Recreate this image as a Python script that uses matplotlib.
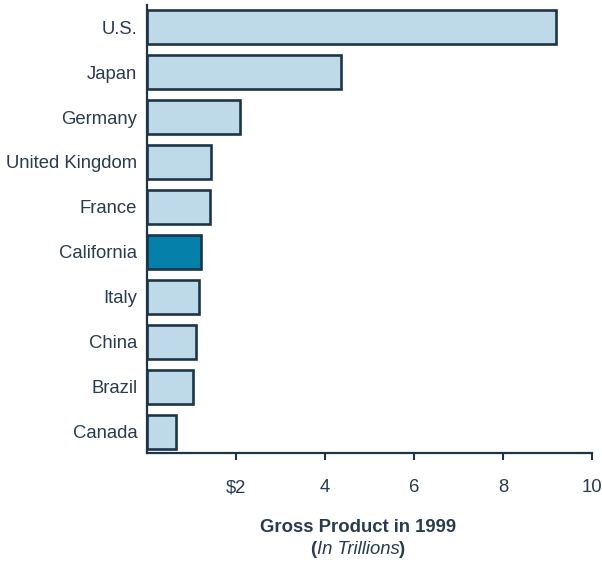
import matplotlib.pyplot as plt

plt.rcParams["font.family"] = ["Liberation Sans", "DejaVu Sans"]

countries = [
    "U.S.", "Japan", "Germany", "United Kingdom", "France",
    "California", "Italy", "China", "Brazil", "Canada",
]
gross_product = [9.19, 4.36, 2.09, 1.44, 1.42, 1.21, 1.17, 1.10, 1.03, 0.65]
highlight = "California"

x_ticks = [2, 4, 6, 8, 10]
x_tick_labels = ["$2", "4", "6", "8", "10"]

LIGHT_BLUE = "#bed9e7"
DEEP_BLUE = "#0480ab"
NAVY = "#1d3549"
TEXT = "#293b4e"

fig = plt.figure(figsize=(6.02, 5.62), dpi=100, facecolor="white")
ax = fig.add_axes([147 / 602, 1 - 453 / 562, 445 / 602, 448 / 562])

colors = [DEEP_BLUE if c == highlight else LIGHT_BLUE for c in countries]
ax.barh(
    range(len(countries)),
    gross_product,
    height=0.76,
    color=colors,
    edgecolor=NAVY,
    linewidth=1.9,
)

ax.set_xlim(0, 10)
ax.set_ylim(len(countries) - 0.53, -0.49)

ax.set_yticks(range(len(countries)))
ax.set_yticklabels(countries)
ax.set_xticks(x_ticks)
ax.set_xticklabels(x_tick_labels)

ax.tick_params(axis="y", length=0, pad=7, labelsize=13.3, labelcolor=TEXT)
ax.tick_params(axis="x", length=5, width=1.5, color=NAVY, pad=14,
               labelsize=13.3, labelcolor=TEXT)

for side in ["top", "right"]:
    ax.spines[side].set_visible(False)
for side in ["left", "bottom"]:
    ax.spines[side].set_color(NAVY)
    ax.spines[side].set_linewidth(1.6)

# two-line axis title: bold first line, "(In Trillions)" with bold parens
cx = 358 / 602
fig.text(cx, 1 - 528 / 562, "Gross Product in 1999", ha="center", va="center",
         fontsize=13.3, fontweight="bold", color=TEXT)
mid = fig.text(cx, 1 - 549 / 562, "In Trillions", ha="center", va="center",
               fontsize=13.3, fontstyle="italic", color=TEXT)
ax.annotate("(", xy=(0, 0), xycoords=mid, ha="right", va="bottom",
            fontsize=13.3, fontweight="bold", color=TEXT)
ax.annotate(")", xy=(1, 0), xycoords=mid, ha="left", va="bottom",
            fontsize=13.3, fontweight="bold", color=TEXT)

fig.savefig("out.png", dpi=100, facecolor=fig.get_facecolor())
